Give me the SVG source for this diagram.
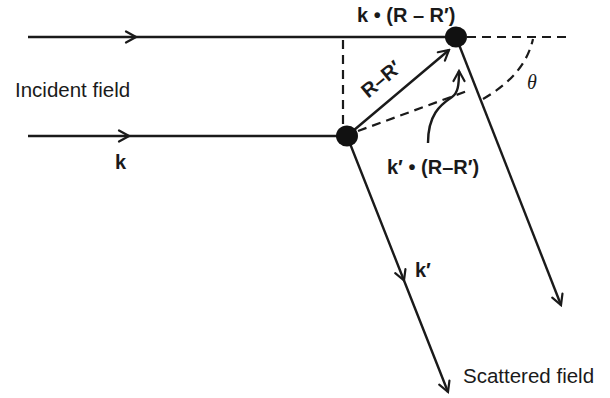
<svg xmlns="http://www.w3.org/2000/svg" width="610" height="398" viewBox="0 0 610 398">
<defs>
<marker id="chev" markerWidth="14" markerHeight="14" refX="0" refY="0" viewBox="-12 -7 14 14" orient="auto" markerUnits="userSpaceOnUse">
<path d="M -10,-5.5 L 0,0 L -10,5.5" fill="none" stroke="#1a1a1a" stroke-width="2.2" stroke-linecap="round" stroke-linejoin="miter"/>
</marker>
<style>
.ln{stroke:#1a1a1a;stroke-width:2.4;fill:none}
.dash{stroke:#1a1a1a;stroke-width:2.2;fill:none;stroke-dasharray:9 6}
.lbl{font-family:"Liberation Sans",Arial,sans-serif;font-size:20.5px;fill:#1a1a1a}
.b{font-family:"Liberation Sans",Arial,sans-serif;font-size:20px;font-weight:bold;fill:#1a1a1a}
.th{font-family:"Liberation Serif","Times New Roman",serif;font-style:italic;font-size:20px;fill:#1a1a1a}
.dot{fill:#111}
</style>
</defs>
<g id="connectors">
<path class="ln" d="M 28,37 L 136,37 L 456,37" marker-mid="url(#chev)"/>
<path class="ln" d="M 28,136 L 129,136 L 347,136" marker-mid="url(#chev)"/>
<line class="dash" x1="467" y1="37" x2="572" y2="37"/>
<line class="dash" x1="343" y1="40" x2="343" y2="126"/>
<line class="ln" x1="347" y1="136" x2="449" y2="50" marker-end="url(#chev)"/>
<line class="dash" x1="358" y1="131" x2="470" y2="90"/>
<path class="dash" d="M 483,99 Q 525,75 533,39"/>
<path class="ln" d="M 428,143 C 428,115 440,105 452,97 C 458,93 459,85 459,71" marker-end="url(#chev)"/>
<path class="ln" d="M 347,136 L 404,280.5 L 448,392" marker-mid="url(#chev)" marker-end="url(#chev)"/>
<line class="ln" x1="456" y1="37" x2="561" y2="305" marker-end="url(#chev)"/>
</g>
<g id="source-top"><ellipse class="dot" cx="456" cy="37" rx="11" ry="10.5"/></g>
<g id="source-bottom"><ellipse class="dot" cx="347" cy="136" rx="11" ry="10.5"/></g>
<g id="labels">
<text class="b" x="357" y="22">k • (R – R′)</text>
<text class="lbl" x="15" y="97">Incident field</text>
<text class="b" x="115" y="169">k</text>
<text class="b" transform="translate(381,79) rotate(-40)" text-anchor="middle" y="7">R–R′</text>
<text class="b" x="387" y="174">k′ • (R–R′)</text>
<text class="th" x="527" y="89">θ</text>
<text class="b" x="415" y="277">k′</text>
<text class="lbl" x="463" y="383">Scattered field</text>
</g>
</svg>
